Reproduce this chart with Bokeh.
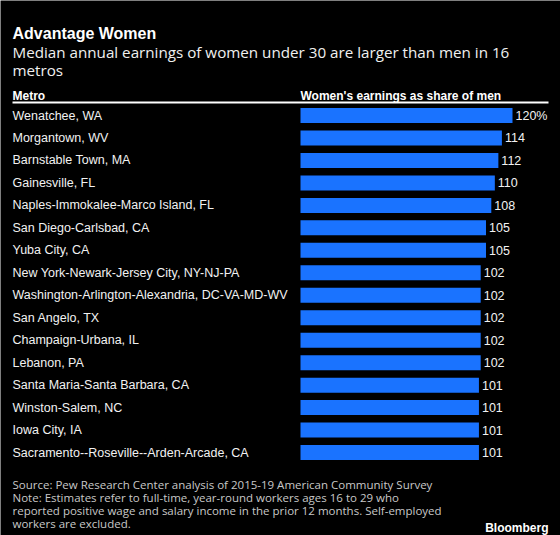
from bokeh.plotting import figure
from bokeh.models import Range1d, Label, ColumnDataSource
from bokeh.core.properties import value
from bokeh.embed import file_html
from bokeh.resources import INLINE

title = "Advantage Women"
subtitle_lines = ["Median annual earnings of women under 30 are larger than men in 16", "metros"]
col_left = "Metro"
col_right = "Women's earnings as share of men"
metros = [
    "Wenatchee, WA",
    "Morgantown, WV",
    "Barnstable Town, MA",
    "Gainesville, FL",
    "Naples-Immokalee-Marco Island, FL",
    "San Diego-Carlsbad, CA",
    "Yuba City, CA",
    "New York-Newark-Jersey City, NY-NJ-PA",
    "Washington-Arlington-Alexandria, DC-VA-MD-WV",
    "San Angelo, TX",
    "Champaign-Urbana, IL",
    "Lebanon, PA",
    "Santa Maria-Santa Barbara, CA",
    "Winston-Salem, NC",
    "Iowa City, IA",
    "Sacramento--Roseville--Arden-Arcade, CA",
]
shares = [120, 114, 112, 110, 108, 105, 105, 102, 102, 102, 102, 102, 101, 101, 101, 101]
value_labels = ["120%"] + [str(v) for v in shares[1:]]
source_lines = [
    "Source: Pew Research Center analysis of 2015-19 American Community Survey",
    "Note: Estimates refer to full-time, year-round workers ages 16 to 29 who",
    "reported positive wage and salary income in the prior 12 months. Self-employed",
    "workers are excluded.",
]
brand = "Bloomberg"

W, H = 560, 535
# layout (page pixels)
X0 = 300.0          # page x of value 0
PX_PER_UNIT = 212.0 / 120.0
ROW0 = 115.0        # page y of first row center
ROW_STEP = 22.47

def dx(px):
    return (px - X0) / PX_PER_UNIT

def dy(py):
    return (py - ROW0) / ROW_STEP

def sx(px):
    return px

def sy(py):
    return H - py

p = figure(width=W, height=H, output_backend="svg", toolbar_location=None,
           x_range=Range1d(dx(0), dx(W)), y_range=Range1d(dy(H), dy(0)),
           min_border=0, background_fill_color="black", border_fill_color="black",
           outline_line_color=None)
p.axis.visible = False
p.grid.visible = False

rows = list(range(len(metros)))
src = ColumnDataSource(dict(y=rows, v=shares, name=metros, lab=value_labels))

p.hbar(y="y", left=0, right="v", height=15.0 / ROW_STEP, source=src,
       fill_color="#1a73ff", line_color=None)

FONT = value("Liberation Sans")
p.text(x=dx(12), y="y", text="name", source=src, text_font=FONT,
       text_font_size="12.5px", text_color="#f2f2f2", text_baseline="middle")
p.text(x="v", y="y", text="lab", source=src, text_font=FONT, x_offset=3,
       text_font_size="12.5px", text_color="#f2f2f2", text_baseline="middle")

# header rule
p.segment(x0=dx(12), x1=dx(548), y0=dy(102), y1=dy(102), line_color="white", line_width=2)

def lab(text, px, py, size, bold=False, color="white", font="Liberation Sans", align="left"):
    p.add_layout(Label(x=sx(px), y=sy(py), x_units="screen", y_units="screen", text=text,
                       text_font=font, text_font_size=size, text_color=color,
                       text_font_style="bold" if bold else "normal",
                       text_align=align, text_baseline="alphabetic"))

lab(title, 12, 33, "16px", bold=True, font="Liberation Sans")
lab(subtitle_lines[0], 12, 51, "15.2px", color="#f0f0f0", font="Open Sans")
lab(subtitle_lines[1], 12, 69, "15.2px", color="#f0f0f0", font="Open Sans")
lab(col_left, 12, 95, "12px", bold=True)
lab(col_right, 300, 95, "12px", bold=True)
for i, line in enumerate(source_lines):
    lab(line, 12, 484 + 13 * i, "11.5px", color="#c8c8c8", font="Open Sans")
lab(brand, 548, 527, "12px", bold=True, align="right")

open("out.html", "w").write(file_html(p, INLINE))
